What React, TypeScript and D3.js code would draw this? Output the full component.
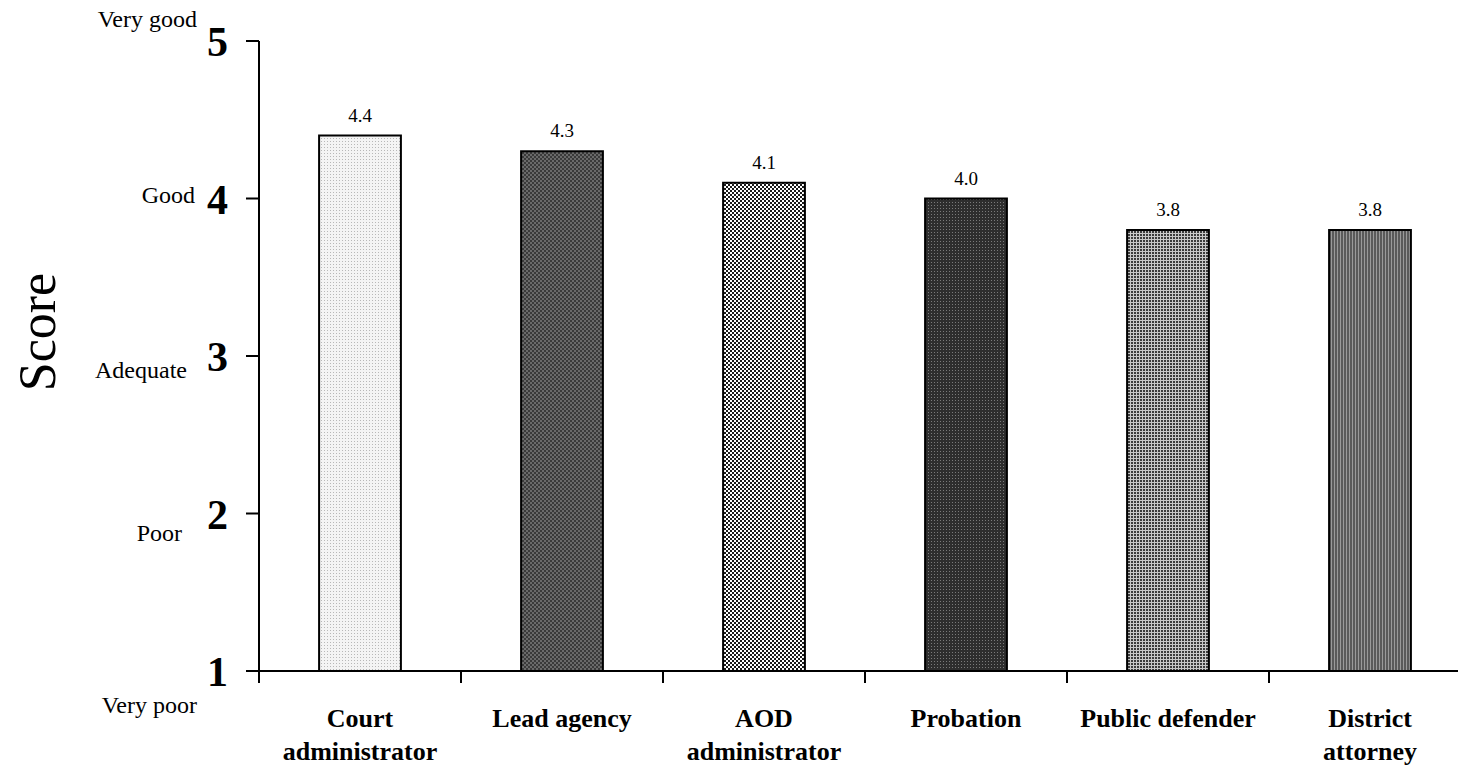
import React from "react";
import * as d3 from "d3";

const categories: string[][] = [
  ["Court", "administrator"],
  ["Lead agency"],
  ["AOD", "administrator"],
  ["Probation"],
  ["Public defender"],
  ["District", "attorney"],
];
const scores: number[] = [4.4, 4.3, 4.1, 4.0, 3.8, 3.8];
const scoreLabels: string[] = ["4.4", "4.3", "4.1", "4.0", "3.8", "3.8"];
const yTicks: number[] = [1, 2, 3, 4, 5];
const verbalLabels: string[] = ["Very poor", "Poor", "Adequate", "Good", "Very good"];
// layout only: [right x, baseline offset from tick]
const verbalLayout: [number, number][] = [
  [197, 42],
  [182, 27],
  [187, 22],
  [195, 4.5],
  [197, -14],
];
const patternIds = ["pDots", "pDarkCheck", "pCheck", "pDarkSpeck", "pGrid", "pStripes"];

const W = 1458;
const H = 774;
const axisX = 259;
const xRight = 1471;
const yTop = 41;
const yBottom = 671;
const serif = "'Times New Roman', 'Liberation Serif', serif";

export default function App() {
  const y = d3.scaleLinear().domain([1, 5]).range([yBottom, yTop]);
  const keys = categories.map((c) => c.join(" "));
  const x = d3.scaleBand<string>().domain(keys).range([axisX, xRight]).padding(0);
  const bw = x.bandwidth() * 0.405;
  const boundaries = d3.range(keys.length + 1).map((i) => axisX + i * x.step());

  return (
    <svg
      width={W}
      height={H}
      style={{ position: "absolute", left: 0, top: 0, background: "#fff" }}
      fontFamily={serif}
    >
      <defs>
        <pattern id="pDots" width={3} height={3} patternUnits="userSpaceOnUse">
          <rect width={3} height={3} fill="#f4f4f4" />
          <rect width={1} height={1} fill="#b8b8b8" />
        </pattern>
        <pattern id="pDarkCheck" width={4} height={4} patternUnits="userSpaceOnUse">
          <rect width={4} height={4} fill="#3a3a3a" />
          <rect width={2} height={2} fill="#6a6a6a" />
          <rect x={2} y={2} width={2} height={2} fill="#6a6a6a" />
        </pattern>
        <pattern id="pCheck" width={4} height={4} patternUnits="userSpaceOnUse">
          <rect width={4} height={4} fill="#ffffff" />
          <rect width={2} height={2} fill="#1a1a1a" />
          <rect x={2} y={2} width={2} height={2} fill="#1a1a1a" />
        </pattern>
        <pattern id="pDarkSpeck" width={3} height={3} patternUnits="userSpaceOnUse">
          <rect width={3} height={3} fill="#2e2e2e" />
          <rect x={1} y={1} width={1} height={1} fill="#7a7a7a" />
        </pattern>
        <pattern id="pGrid" width={3} height={3} patternUnits="userSpaceOnUse">
          <rect width={3} height={3} fill="#c8c8c8" />
          <rect width={2} height={2} fill="#3c3c3c" />
        </pattern>
        <pattern id="pStripes" width={3} height={3} patternUnits="userSpaceOnUse">
          <rect width={3} height={3} fill="#5a5a5a" />
          <rect x={2} width={1} height={3} fill="#9a9a9a" />
        </pattern>
      </defs>

      {/* Y axis title */}
      <text
        transform={`translate(55, 332) rotate(-90)`}
        textAnchor="middle"
        fontSize={52}
        fill="#000"
      >
        Score
      </text>

      {/* bars */}
      {keys.map((k, i) => {
        const cx = (x(k) as number) + x.bandwidth() / 2;
        return (
          <g key={k}>
            <rect
              x={cx - bw / 2}
              y={y(scores[i])}
              width={bw}
              height={y(1) - y(scores[i])}
              fill={`url(#${patternIds[i]})`}
              stroke="#000"
              strokeWidth={2}
            />
            <text x={cx} y={y(scores[i]) - 14} textAnchor="middle" fontSize={19} fill="#000">
              {scoreLabels[i]}
            </text>
          </g>
        );
      })}

      {/* Y axis */}
      <line x1={axisX} x2={axisX} y1={yTop} y2={yBottom + 12} stroke="#000" strokeWidth={2} />
      {yTicks.map((t, i) => (
        <g key={t}>
          <line x1={axisX - 13} x2={axisX} y1={y(t)} y2={y(t)} stroke="#000" strokeWidth={2} />
          <text
            x={228}
            y={y(t) + 15}
            textAnchor="end"
            fontSize={42}
            fontWeight="bold"
            fill="#000"
          >
            {t}
          </text>
          <text
            x={verbalLayout[i][0]}
            y={y(t) + verbalLayout[i][1]}
            textAnchor="end"
            fontSize={24}
            fill="#000"
          >
            {verbalLabels[i]}
          </text>
        </g>
      ))}

      {/* X axis */}
      <line x1={axisX} x2={W} y1={yBottom} y2={yBottom} stroke="#000" strokeWidth={2} />
      {boundaries.map((bx, i) => (
        <line key={i} x1={bx} x2={bx} y1={yBottom} y2={yBottom + 12} stroke="#000" strokeWidth={2} />
      ))}
      {keys.map((k, i) => {
        const cx = (x(k) as number) + x.bandwidth() / 2;
        return (
          <text key={k} textAnchor="middle" fontSize={26} fontWeight="bold" fill="#000">
            {categories[i].map((line, j) => (
              <tspan key={j} x={cx} y={727 + j * 33}>
                {line}
              </tspan>
            ))}
          </text>
        );
      })}
    </svg>
  );
}
